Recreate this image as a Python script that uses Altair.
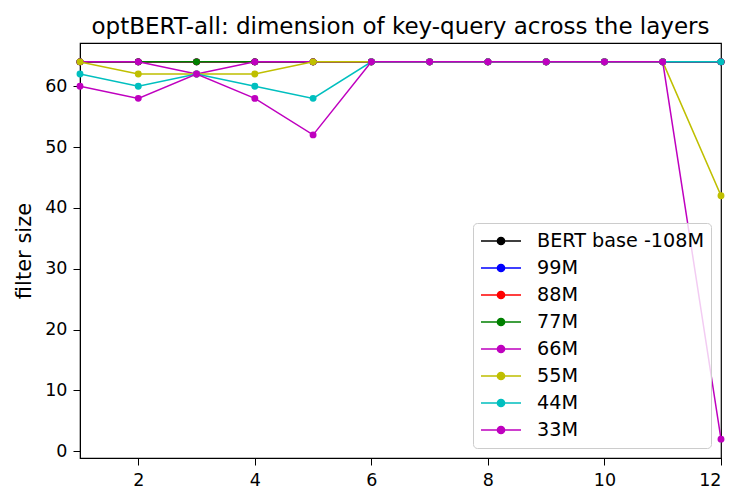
import altair as alt
import pandas as pd

layers_x = list(range(1, 13))
series_names = ["BERT base -108M", "99M", "88M", "77M", "66M", "55M", "44M", "33M"]
series_colors = ["#000000", "#0000ff", "#ff0000", "#008000", "#bf00bf", "#bfbf00", "#00bfbf", "#bf00bf"]

bert_base = [64] * 12
m99 = [64] * 12
m88 = [64] * 12
m77 = [64] * 12
m66 = [64, 64, 62, 64, 64, 64, 64, 64, 64, 64, 64, 64]
m55 = [64, 62, 62, 62, 64, 64, 64, 64, 64, 64, 64, 42]
m44 = [62, 60, 62, 60, 58, 64, 64, 64, 64, 64, 64, 64]
m33 = [60, 58, 62, 58, 52, 64, 64, 64, 64, 64, 64, 2]
all_values = [bert_base, m99, m88, m77, m66, m55, m44, m33]

x_ticks = [2, 4, 6, 8, 10, 12]
y_ticks = [0, 10, 20, 30, 40, 50, 60]

color_scale = alt.Scale(domain=series_names, range=series_colors)
x_enc = alt.X("layer:Q", scale=alt.Scale(domain=[1, 12], nice=False, zero=False),
              axis=alt.Axis(values=x_ticks, title=None, grid=False))
y_enc = alt.Y("size:Q", scale=alt.Scale(domain=[-1.1, 67.1], nice=False, zero=False),
              axis=alt.Axis(values=y_ticks, title="filter size", grid=False, titlePadding=10))
legend = alt.Legend(
    title=None, orient="bottom-right", offset=10,
    symbolType="M-2,0L2,0M-0.36,0A0.36,0.36,0,1,0,0.36,0A0.36,0.36,0,1,0,-0.36,0",
    symbolSize=400, symbolStrokeWidth=1.5, symbolOffset=10,
    labelFontSize=19.2, labelFont="DejaVu Sans",
    labelColor="#000000", rowPadding=5, padding=7, strokeColor="#cccccc",
    fillColor="rgba(255,255,255,0.8)", cornerRadius=4, labelOffset=25, labelLimit=300,
)

layers = []
for name, vals in zip(series_names, all_values):
    df = pd.DataFrame({"layer": layers_x, "size": vals, "series": name})
    base = alt.Chart(df).encode(
        x=x_enc, y=y_enc,
        color=alt.Color("series:N", scale=color_scale, legend=legend, sort=series_names),
    )
    layers.append(base.mark_line(strokeWidth=1.5, clip=True))
    layers.append(base.mark_point(filled=True, size=48, opacity=1, clip=False))

chart = alt.layer(*layers).properties(
    width=641, height=415,
    padding={"left": 5, "top": 8, "right": 10, "bottom": 5},
    title=alt.Title("optBERT-all: dimension of key-query across the layers",
                    fontSize=23, font="DejaVu Sans", fontWeight="normal", color="#000000", offset=4),
).configure_view(stroke="#000000", strokeWidth=1.2).configure_axis(
    labelFont="DejaVu Sans", labelFontSize=17.5, labelColor="#000000",
    titleFont="DejaVu Sans", titleFontSize=21, titleFontWeight="normal", titleColor="#000000",
    domainColor="#000000", tickColor="#000000", tickSize=7, labelPadding=6,
)

chart.save("out.html", embed_options={"renderer": "svg", "actions": False})
